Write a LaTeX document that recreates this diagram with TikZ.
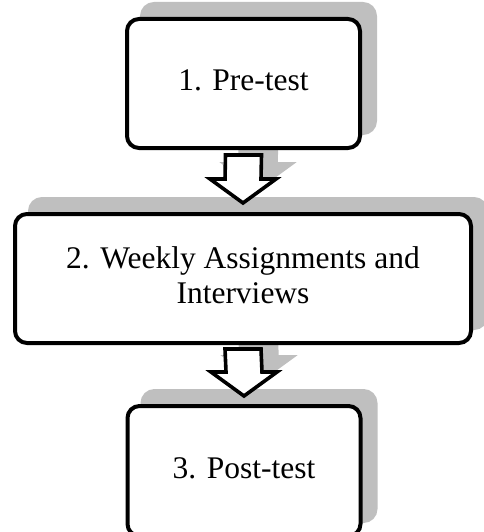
\documentclass[tikz,border=0pt]{standalone}
\usepackage{fontspec}
\setmainfont{Liberation Serif}
\usetikzlibrary{calc,shadows}
\pgfdeclarelayer{bg}
\pgfsetlayers{bg,main}
\definecolor{sg}{gray}{0.75}
\tikzset{
  stepbox/.style={draw=black, line width=4pt, rounded corners=12pt, fill=white,
    align=center, inner sep=0pt, text depth=6pt,
    font=\fontsize{31.5}{35}\selectfont,
    general shadow={fill=sg, draw=sg, line width=4pt, shadow xshift=15pt, shadow yshift=15pt}},
  blockarrow/.style={line width=3.6pt, line join=miter,
    to path={($(\tikztostart)+(-18,0)$) -- ($(\tikztotarget)+(-18,24)$) -- ($(\tikztotarget)+(-33,24)$)
      -- (\tikztotarget) -- ($(\tikztotarget)+(33,24)$) -- ($(\tikztotarget)+(18,24)$)
      -- ($(\tikztostart)+(18,0)$) -- cycle}},
  arrowbody/.style={blockarrow, draw=black, fill=white},
  arrowshadow/.style={blockarrow, draw=sg, fill=sg, transform canvas={xshift=15pt,yshift=15pt}}
}
\begin{document}
\begin{tikzpicture}[x=1pt,y=1pt]
\useasboundingbox (0,0) rectangle (483,-532);
\node[stepbox, minimum width=233pt, minimum height=129pt] (b1) at (243.5,-83.5) {1. Pre-test};
\node[stepbox, minimum width=456pt, minimum height=129pt] (b2) at (243,-278.5) {2. Weekly Assignments and\\Interviews};
\node[stepbox, minimum width=233pt, minimum height=130pt] (b3) at (244,-471) {3. Post-test};
\coordinate (a1s) at ($(b1.south)+(0,-5)$);
\coordinate (a1e) at ($(b2.north)+(0,9)$);
\coordinate (a2s) at ($(b2.south)+(0,-4)$);
\coordinate (a2e) at ($(b3.north)+(0,8)$);
\begin{pgfonlayer}{bg}
  \draw[arrowshadow] (a1s) to (a1e);
  \draw[arrowshadow] (a2s) to (a2e);
\end{pgfonlayer}
\draw[arrowbody] (a1s) to (a1e);
\draw[arrowbody] (a2s) to (a2e);
\end{tikzpicture}
\end{document}
